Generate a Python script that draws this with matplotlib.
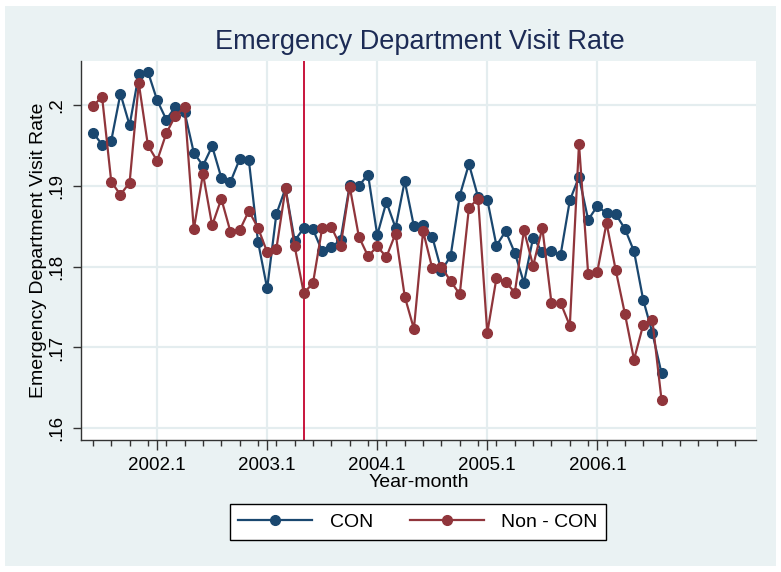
import numpy as np
import pandas as pd
import matplotlib
matplotlib.use("Agg")
import matplotlib.pyplot as plt
from matplotlib.patches import Rectangle

plt.rcParams['font.family'] = ['Liberation Sans', 'DejaVu Sans']

# monthly series, 2001m6 .. 2006m8
months = pd.period_range("2001-06", "2006-08", freq="M")
con = [0.1966, 0.1951, 0.1956, 0.2014, 0.1975, 0.2038, 0.2041, 0.2006, 0.1982, 0.1998,
       0.1991, 0.1941, 0.1925, 0.1949, 0.1910, 0.1905, 0.1933, 0.1932, 0.1831, 0.1773,
       0.1865, 0.1897, 0.1832, 0.1848, 0.1846, 0.1819, 0.1824, 0.1833, 0.1901, 0.1900,
       0.1914, 0.1839, 0.1880, 0.1848, 0.1906, 0.1850, 0.1851, 0.1837, 0.1795, 0.1813,
       0.1888, 0.1927, 0.1886, 0.1883, 0.1826, 0.1844, 0.1817, 0.1780, 0.1836, 0.1818,
       0.1819, 0.1815, 0.1882, 0.1911, 0.1858, 0.1875, 0.1866, 0.1865, 0.1847, 0.1819,
       0.1759, 0.1718, 0.1668]
non_con = [0.1999, 0.2010, 0.1905, 0.1889, 0.1904, 0.2027, 0.1950, 0.1931, 0.1965, 0.1987,
           0.1997, 0.1846, 0.1915, 0.1851, 0.1884, 0.1843, 0.1845, 0.1869, 0.1848, 0.1818,
           0.1822, 0.1897, 0.1825, 0.1767, 0.1780, 0.1848, 0.1849, 0.1825, 0.1899, 0.1837,
           0.1813, 0.1825, 0.1812, 0.1841, 0.1763, 0.1723, 0.1844, 0.1798, 0.1800, 0.1782,
           0.1766, 0.1873, 0.1884, 0.1718, 0.1786, 0.1781, 0.1768, 0.1845, 0.1801, 0.1848,
           0.1755, 0.1755, 0.1727, 0.1952, 0.1791, 0.1794, 0.1854, 0.1796, 0.1742, 0.1685,
           0.1728, 0.1734, 0.1635]
tick_years = [2002, 2003, 2004, 2005, 2006]
tick_labels = ["2002.1", "2003.1", "2004.1", "2005.1", "2006.1"]
yticks = [0.16, 0.17, 0.18, 0.19, 0.20]
ytick_labels = [".16", ".17", ".18", ".19", ".2"]
event_month = pd.Period("2003-05", freq="M")


def mnum(p):
    # Stata-like monthly number
    return p.year * 12 + p.month - 1


x = np.array([mnum(p) for p in months])
xt = [y * 12 for y in tick_years]

bg = "#EAF2F3"
grid_c = "#E4EDEF"
navy = "#1A476F"
maroon = "#90353B"

fig = plt.figure(figsize=(7.81, 5.72), dpi=100)
fig.patch.set_facecolor("white")
fig.patches.append(Rectangle((5 / 781, 1 - 566 / 572), 771 / 781, 560 / 572,
                             transform=fig.transFigure, facecolor=bg, edgecolor="none", zorder=-10))

ax = fig.add_axes([81 / 781, 1 - 440 / 572, (756 - 81) / 781, (440 - 61) / 572])
ax.set_zorder(1)
ax.set_facecolor("white")

ax.plot(x, con, color=navy, lw=1.6, marker="o", ms=7, mec=navy, mfc=navy, label="CON", zorder=3)
ax.plot(x, non_con, color=maroon, lw=1.6, marker="o", ms=7, mec=maroon, mfc=maroon,
        label="Non - CON", zorder=4)
ax.axvline(mnum(event_month), color="#C8143C", lw=1.4, zorder=2)

ax.set_xlim(xt[0] - 8.3, xt[0] + 65.3)
ax.set_ylim(0.15855, 0.20545)

ax.set_xticks(xt)
ax.set_xticklabels(tick_labels, fontsize=13.5)
ax.set_xticks(np.arange(x[0], xt[-1] + 16, 2), minor=True)
ax.set_yticks(yticks)
ax.set_yticklabels(ytick_labels, fontsize=13.5, rotation=90, va="center")

ax.tick_params(axis="x", which="major", length=7, width=1, color="#333333", pad=5)
ax.tick_params(axis="x", which="minor", length=4, width=1, color="#333333")
ax.tick_params(axis="y", which="major", length=6, width=1, color="#333333", pad=5)

ax.grid(True, which="major", color=grid_c, lw=1.6, zorder=0)
ax.set_axisbelow(True)
for s in ["top", "right"]:
    ax.spines[s].set_visible(False)
for s in ["left", "bottom"]:
    ax.spines[s].set_color("#333333")
    ax.spines[s].set_linewidth(1)

ax.set_xlabel("Year-month", fontsize=14, labelpad=0)
ax.set_ylabel("Emergency Department Visit Rate", fontsize=14, labelpad=1)

fig.text(420 / 781, 1 - 42 / 572, "Emergency Department Visit Rate", fontsize=19.5,
         color="#1C2B55", ha="center", va="center")

leg = fig.legend(loc="center", bbox_to_anchor=(418 / 781, 1 - 522 / 572), ncol=2,
                 fontsize=14, handlelength=3.8, handletextpad=0.9, columnspacing=1.9,
                 borderpad=0.45, fancybox=False, framealpha=1, edgecolor="black")
leg.get_frame().set_linewidth(1)

fig.savefig("out.png", dpi=100, facecolor=fig.get_facecolor())
